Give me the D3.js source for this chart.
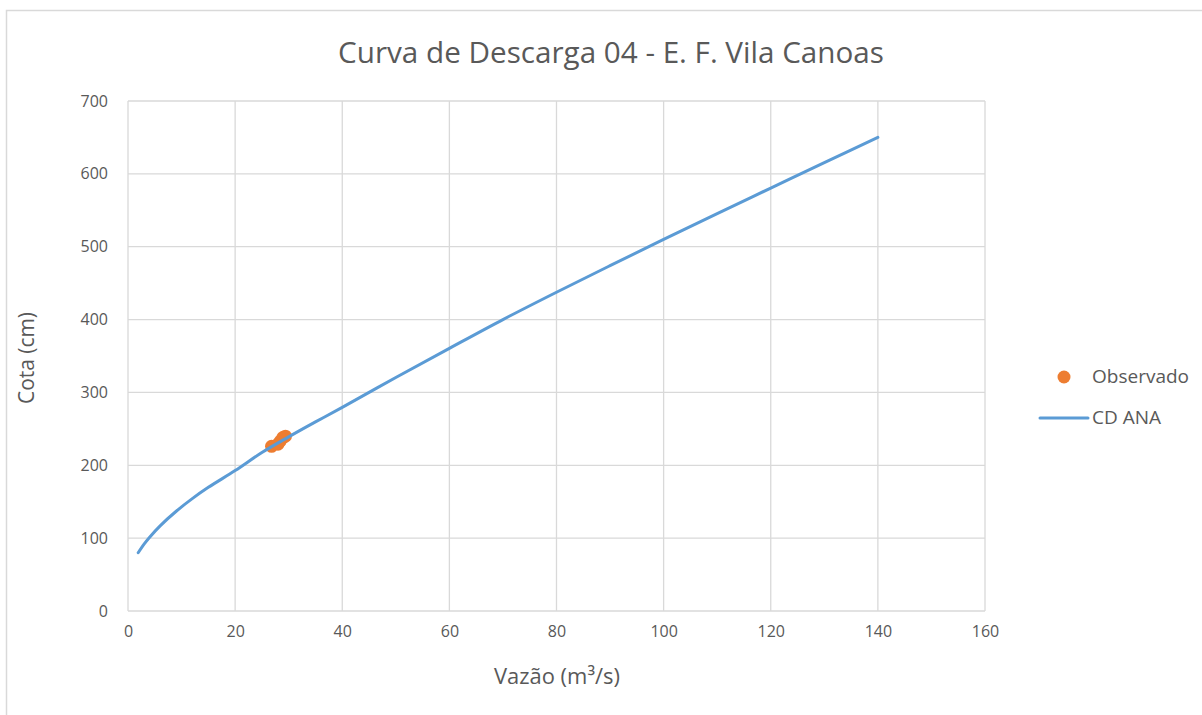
<!DOCTYPE html>
<html><head><meta charset="utf-8">
<script src="https://cdn.jsdelivr.net/npm/d3@7"></script>
<style>body{margin:0;background:#fff}svg{display:block}text{font-family:"Open Sans",sans-serif;fill:#595959}</style>
</head><body>
<script>
const title = "Curva de Descarga 04 - E. F. Vila Canoas";
const xTitle = "Vazão (m³/s)";
const yTitle = "Cota (cm)";
const xTicks = [0,20,40,60,80,100,120,140,160];
const yTicks = [0,100,200,300,400,500,600,700];
// CD ANA curve
const curveQ = [1.9,3,4,6,9,12,15,20,25,30,35,40,50,60,70,80,90,100,110,120,130,140];
const curveH = [80,91.8,101,116.9,136.9,154.2,169.7,192.7,217.5,239,259.5,279.5,320.5,360.5,400,437.5,474,510,545.5,580.5,615.5,650];
// Observed
const obsQ = [26.8,28.0,28.4,28.9,29.4];
const obsH = [226,229,233,238,240];
const seriesNames = ["Observado","CD ANA"];

const W=1202,H=715;
const svg=d3.select("body").append("svg").attr("width",W).attr("height",H);
svg.append("rect").attr("x",6.5).attr("y",10.5).attr("width",W).attr("height",H).attr("fill","none").attr("stroke","#d9d9d9").attr("stroke-width",1.5);
const x=d3.scaleLinear().domain([0,160]).range([128,985]);
const y=d3.scaleLinear().domain([0,700]).range([611,101]);

function fit(sel,target){const n=sel.node();const w=n.getComputedTextLength();const fs=parseFloat(sel.style("font-size"));sel.style("font-size",(fs*target/w).toFixed(2)+"px");}

const g=svg.append("g");
g.selectAll(".vg").data(xTicks).join("line").attr("x1",d=>x(d)).attr("x2",d=>x(d)).attr("y1",y(0)).attr("y2",y(700)).attr("stroke","#d9d9d9").attr("stroke-width",1.3);
g.selectAll(".hg").data(yTicks).join("line").attr("y1",d=>y(d)).attr("y2",d=>y(d)).attr("x1",x(0)).attr("x2",x(160)).attr("stroke","#d9d9d9").attr("stroke-width",1.3);

const xa=svg.append("g").attr("transform",`translate(0,${y(0)})`).call(d3.axisBottom(x).tickValues(xTicks).tickSize(0).tickPadding(15));
xa.select(".domain").remove();
xa.selectAll("text").style("font-size","16px").attr("fill","#595959");
const ya=svg.append("g").attr("transform",`translate(${x(0)},0)`).call(d3.axisLeft(y).tickValues(yTicks).tickSize(0).tickPadding(20));
ya.select(".domain").remove();
ya.selectAll("text").style("font-size","16px").attr("fill","#595959");

const obs=obsQ.map((q,i)=>[q,obsH[i]]);
svg.append("g").selectAll("circle").data(obs).join("circle").attr("cx",d=>x(d[0])).attr("cy",d=>y(d[1])).attr("r",6.5).attr("fill","#ED7D31");

const pts=curveQ.map((q,i)=>[q,curveH[i]]);
svg.append("path").datum(pts).attr("d",d3.line().x(d=>x(d[0])).y(d=>y(d[1])).curve(d3.curveCatmullRom))
  .attr("fill","none").attr("stroke","#5B9BD5").attr("stroke-width",3).attr("stroke-linecap","round");

const t=svg.append("text").attr("x",611).attr("y",63).attr("text-anchor","middle").style("font-size","24px").text(title); fit(t,546);
const xt=svg.append("text").attr("x",557).attr("y",684).attr("text-anchor","middle").style("font-size","17px").text(xTitle); fit(xt,126);
const yt=svg.append("text").attr("transform",`translate(34,358) rotate(-90)`).attr("text-anchor","middle").style("font-size","17px").text(yTitle); fit(yt,92);

svg.append("circle").attr("cx",1064).attr("cy",377).attr("r",6.5).attr("fill","#ED7D31");
const l1=svg.append("text").attr("x",1092).attr("y",383).style("font-size","16px").text(seriesNames[0]); fit(l1,97);
svg.append("line").attr("x1",1040).attr("x2",1088).attr("y1",418).attr("y2",418).attr("stroke","#5B9BD5").attr("stroke-width",3).attr("stroke-linecap","round");
const l2=svg.append("text").attr("x",1092).attr("y",424).style("font-size",l1.style("font-size")).text(seriesNames[1]);
</script>
</body></html>
